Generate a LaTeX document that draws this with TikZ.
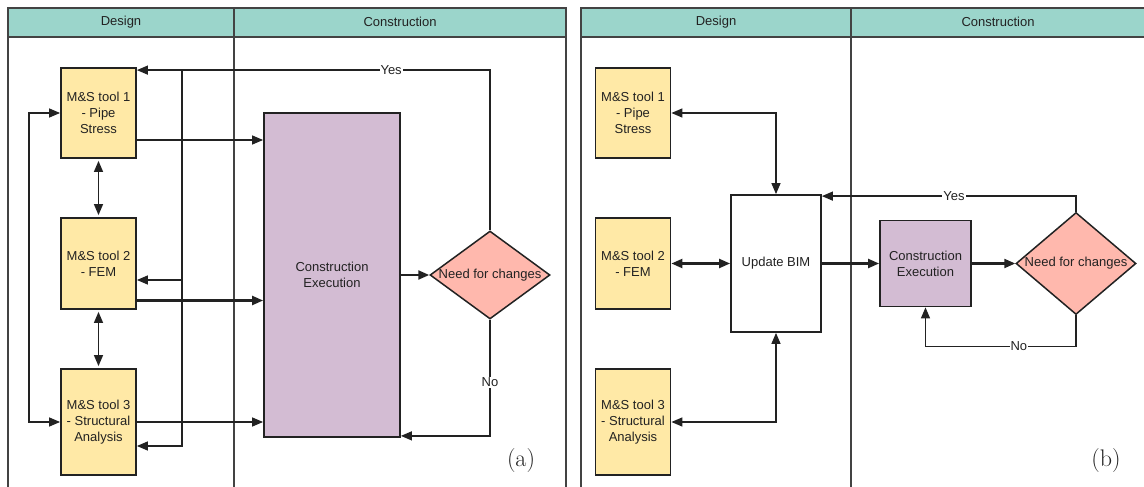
\documentclass[tikz,border=0pt]{standalone}
\usepackage{fontspec}
\setsansfont{Liberation Sans}
\usetikzlibrary{arrows.meta,shapes.geometric}

\definecolor{lanehead}{HTML}{9BD5CB}
\definecolor{toolfill}{HTML}{FFE9A6}
\definecolor{execfill}{HTML}{D3BCD3}
\definecolor{askfill}{HTML}{FFB8AD}
\definecolor{edge}{HTML}{222222}

\tikzset{
  lane/.style={draw=edge!85, line width=1.4pt},
  lanetitle/.style={font=\sffamily\fontsize{13}{16}\selectfont, text=edge},
  boxtext/.style={font=\sffamily\fontsize{13}{16}\selectfont, text=edge, align=center},
  tool/.style={boxtext, draw=edge, line width=1.8pt, fill=toolfill, minimum width=75pt, inner sep=0pt},
  execbox/.style={boxtext, draw=edge, line width=1.8pt, fill=execfill, inner sep=0pt},
  bimbox/.style={boxtext, draw=edge, line width=1.8pt, fill=white, inner sep=0pt},
  ask/.style={diamond, draw=edge, line width=1.5pt, fill=askfill, inner sep=0pt, minimum width=120pt, minimum height=88pt},
  asktext/.style={boxtext, inner sep=0pt},
  flow/.style={-{Triangle[length=11pt,width=9pt]}, line width=1.4pt, draw=edge},
  both/.style={{Triangle[length=11pt,width=9pt]}-{Triangle[length=11pt,width=9pt]}, line width=1.4pt, draw=edge},
  heavy/.style={line width=2.2pt},
  answer/.style={font=\sffamily\fontsize{13}{16}\selectfont, text=edge, fill=white, inner sep=1pt},
  panel/.style={font=\rmfamily\fontsize{24}{28}\selectfont, text=edge}
}

\begin{document}
\begin{tikzpicture}[x=1pt,y=-1pt]
    \useasboundingbox (0,0) rectangle (1144,487);

    \fill[lanehead] (8,8) rectangle (566,37);
    \draw[lane] (8,495) -- (8,8) -- (566,8) -- (566,495);
    \draw[lane] (8,37) -- (566,37);
    \draw[lane] (234,8) -- (234,495);
    \node[lanetitle] (desa) at (121,22) {Design};
    \node[lanetitle] (cona) at (400,22) {Construction};

    \node[tool, minimum height=90pt] (toola1) at (98.5,113) {M\&S tool 1\\- Pipe\\Stress};
    \node[tool, minimum height=91pt] (toola2) at (98.5,263.5) {M\&S tool 2\\- FEM};
    \node[tool, minimum height=106pt] (toola3) at (98.5,422) {M\&S tool 3\\- Structural\\Analysis};
    \node[execbox, minimum width=136pt, minimum height=324pt] (execa) at (332,275) {Construction\\Execution};
    \node[ask] (aska) at (490,275) {};
    \node[asktext] (askatext) at (aska) {Need for changes};

    \draw[flow] (aska.north) |- node[answer, pos=0.64] {Yes} ([yshift=-3pt]toola1.north east);
    \coordinate (forka) at (182,71);
    \draw[flow] (forka) |- ([yshift=-16.5pt]toola2.east);
    \draw[flow] (forka) |- ([yshift=-24pt]toola3.east);

    \draw[both] (toola1.west) -- ++(-31,0) |- (toola3.west);
    \draw[both, shorten <=2pt, shorten >=2pt] (toola1) -- (toola2);
    \draw[both, shorten <=2pt, shorten >=2pt] (toola2) -- (toola3);

    \draw[flow] ([yshift=-27pt]toola1.east) -- ([yshift=-27pt]toola1.east -| execa.west);
    \draw[flow, heavy] ([yshift=-37pt]toola2.east) -- ([yshift=-37pt]toola2.east -| execa.west);
    \draw[flow] (toola3.east) -- (toola3.east -| execa.west);
    \draw[flow, heavy] (execa.east |- aska) -- (aska.west);
    \draw[flow] (aska.south) |- node[answer, pos=0.27] {No} ([yshift=2pt]execa.south east);

    \node[panel] (taga) at (521,461) {(a)};

    \fill[lanehead] (581,8) rectangle (1150,37);
    \draw[lane] (581,495) -- (581,8) -- (1150,8);
    \draw[lane] (581,37) -- (1150,37);
    \draw[lane] (851,8) -- (851,495);
    \node[lanetitle] (desb) at (716,22) {Design};
    \node[lanetitle] (conb) at (998,22) {Construction};

    \node[tool, minimum height=90pt] (toolb1) at (633,113) {M\&S tool 1\\- Pipe\\Stress};
    \node[tool, minimum height=91pt] (toolb2) at (633,263.5) {M\&S tool 2\\- FEM};
    \node[tool, minimum height=106pt] (toolb3) at (633,422) {M\&S tool 3\\- Structural\\Analysis};
    \node[bimbox, minimum width=90pt, minimum height=137pt] (bim) at (776,263.5) {Update BIM};
    \node[execbox, minimum width=91pt, minimum height=86pt] (execb) at (925.5,263.5) {Construction\\Execution};
    \node[ask, minimum height=102pt] (askb) at (1076,263.5) {};
    \node[asktext] (askbtext) at (askb) {Need for changes};

    \draw[both] (toolb1.east) -| (bim.north);
    \draw[both, heavy] (toolb2.east) -- (bim.west);
    \draw[both] (toolb3.east) -| (bim.south);
    \draw[flow, heavy] (bim.east) -- (execb.west);
    \draw[flow, heavy] (execb.east) -- (askb.west);
    \draw[flow] (askb.north) |- node[answer, pos=0.74] {Yes} ([yshift=-2pt]bim.north east);
    \draw[flow] (askb.south) -- ++(0,31) -| node[answer, pos=0.19] {No} (execb.south);

    \node[panel] (tagb) at (1106,461) {(b)};
\end{tikzpicture}
\end{document}
